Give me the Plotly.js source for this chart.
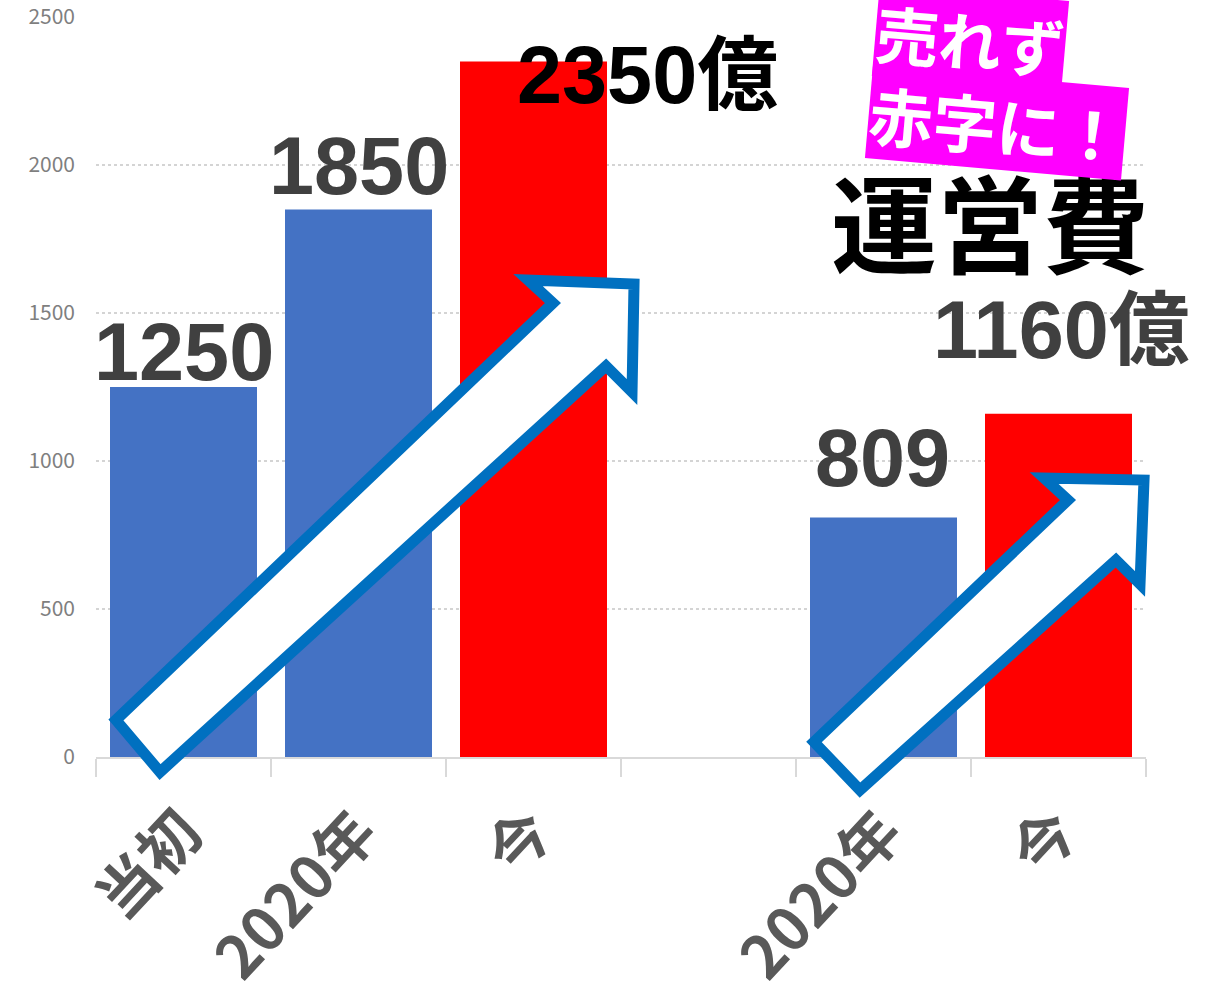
<!DOCTYPE html>
<html>
<head>
<meta charset="utf-8">
<script src="https://cdn.plot.ly/plotly-3.0.1.min.js"></script>
<style>html,body{margin:0;padding:0;background:#fff;}#chart{width:1209px;height:997px;}</style>
</head>
<body>
<div id="chart"></div>
<script>
// ---- data ----
const categories = ['当初', '2020年', '今', ' ', '2020年\u200b', '今\u200b'];
const values = [1250, 1850, 2350, null, 809, 1160];
const barColors = ['#4472C4', '#4472C4', '#FF0000', '#FFFFFF', '#4472C4', '#FF0000'];
const labelTexts = ['1250', '1850', '2350億', null, '809', '1160億'];
const labelColors = ['#404040', '#404040', '#000000', null, '#404040', '#404040'];
const yTicks = [0, 500, 1000, 1500, 2000, 2500];

// ---- geometry helpers (pixel -> paper) ----
const L = 96, R = 63, T = 17, B = 240, W = 1209, H = 997;
const pw = W - L - R, ph = H - T - B;
function px(x) { return ((x - L) / pw).toFixed(4); }
function py(y) { return ((H - B - y) / ph).toFixed(4); }
function poly(pts) {
  return 'M ' + pts.map(p => px(p[0]) + ',' + py(p[1])).join(' L ') + ' Z';
}

const bigArrow = [[116,720],[553,303],[528,280],[634,284],[632,392],[606,366],[160,772]];
const smallArrow = [[814,742],[1068,500],[1044,478],[1144,480],[1140,584],[1116,560],[860,790]];

// label offsets (position tweaks)
const labelShift = [[0,35],[0,43],[114,-14],null,[-1,60],[3,84]];

const numFont = 'Liberation Sans, Arial, Noto Sans CJK JP, sans-serif';
const cjkFont = 'Noto Sans CJK JP, sans-serif';

const annotations = [];
labelTexts.forEach((t, i) => {
  if (t === null) return;
  annotations.push({
    x: categories[i], y: values[i], xref: 'x', yref: 'y',
    text: t, showarrow: false, xanchor: 'center', yanchor: 'middle',
    xshift: labelShift[i][0], yshift: labelShift[i][1],
    font: {family: numFont, size: 81, color: labelColors[i], weight: 'bold'}
  });
});
annotations.push({
  xref: 'paper', yref: 'paper', x: px(990), y: py(219),
  text: '運営費', showarrow: false, xanchor: 'center', yanchor: 'middle',
  font: {family: cjkFont, size: 106, color: '#000000', weight: 'bold'}
});
annotations.push({
  xref: 'paper', yref: 'paper', x: px(970), y: py(38),
  text: '売れず', showarrow: false, xanchor: 'center', yanchor: 'middle',
  textangle: 5, bgcolor: '#FF00FF', borderpad: 0,
  font: {family: cjkFont, size: 63, color: '#FFFFFF', weight: 'bold'}
});
annotations.push({
  xref: 'paper', yref: 'paper', x: px(997), y: py(123),
  text: '赤字に！', showarrow: false, xanchor: 'center', yanchor: 'middle',
  textangle: 5, bgcolor: '#FF00FF', borderpad: 0,
  font: {family: cjkFont, size: 64, color: '#FFFFFF', weight: 'bold'}
});

const shapes = [bigArrow, smallArrow].map(a => ({
  type: 'path', xref: 'paper', yref: 'paper', path: poly(a),
  fillcolor: '#FFFFFF', line: {color: '#0070C0', width: 11}, layer: 'above'
}));

const trace = {
  type: 'bar', x: categories, y: values,
  marker: {color: barColors},
  hoverinfo: 'skip'
};

const layout = {
  width: W, height: H,
  margin: {l: L, r: R, t: T, b: B},
  paper_bgcolor: '#FFFFFF', plot_bgcolor: '#FFFFFF',
  showlegend: false,
  bargap: 0.16,
  xaxis: {
    type: 'category', categoryorder: 'array', categoryarray: categories,
    range: [-0.5, 5.5],
    showline: true, linecolor: '#D9D9D9', linewidth: 2,
    ticks: 'outside', ticklen: 18, tickcolor: '#D9D9D9', tickwidth: 2,
    tickson: 'boundaries', showgrid: false,
    tickangle: -47,
    tickfont: {family: cjkFont, size: 60, color: '#595959', weight: 'bold'},
    ticklabelstandoff: 14
  },
  yaxis: {
    range: [0, 2500], tickvals: yTicks, ticktext: yTicks.map(String),
    showgrid: true, gridcolor: '#D4D4D4', gridwidth: 1.5, griddash: 'dot',
    zeroline: false, showline: false, ticks: '',
    tickfont: {family: cjkFont, size: 21, color: '#7F7F7F'},
    ticklabelstandoff: 20
  },
  annotations: annotations,
  shapes: shapes
};

Plotly.newPlot('chart', [trace], layout, {displayModeBar: false, staticPlot: true});
</script>
</body>
</html>
